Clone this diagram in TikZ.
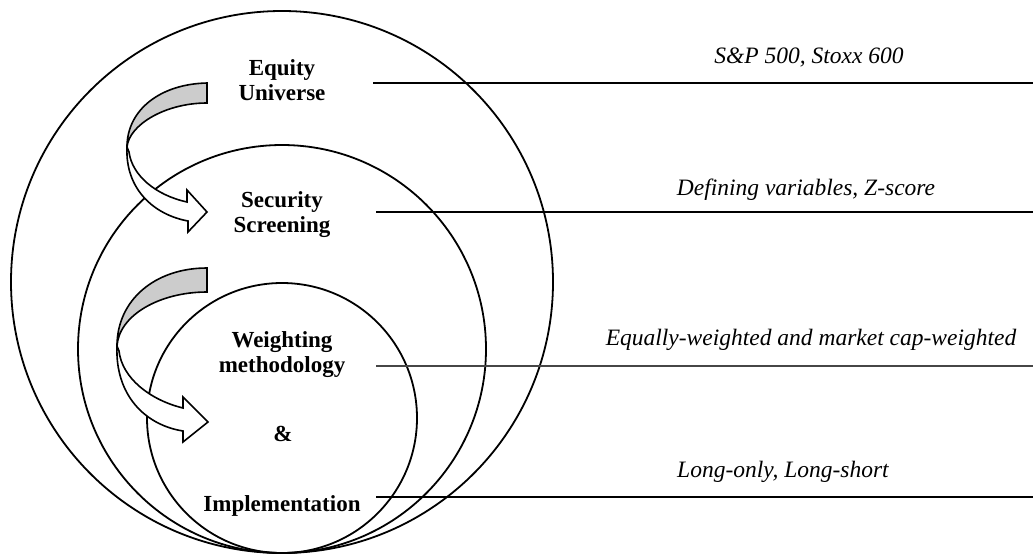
\documentclass[tikz,border=0pt]{standalone}
\usepackage{fontspec}
\setmainfont{Liberation Serif}
\definecolor{backgray}{RGB}{204,204,204}
\definecolor{leadgray}{RGB}{70,70,70}
\begin{document}
\begin{tikzpicture}[x=1pt,y=-1pt,
  ring/.style={draw=black,line width=1.8pt},
  bandback/.style={draw=black,line width=1.6pt,fill=backgray,line join=miter},
  bandfront/.style={draw=black,line width=1.6pt,fill=white,line join=miter},
  stagelbl/.style={font=\fontsize{23}{25}\selectfont\bfseries,align=center,inner sep=0pt,anchor=base},
  notelbl/.style={font=\fontsize{23.5}{26}\selectfont\itshape,inner sep=0pt,anchor=base},
  leader/.style={draw=black,line width=1.1pt}]
\useasboundingbox (0,0) rectangle (1033,555);
\fill[white] (0,0) rectangle (1033,555);

% nested circles
\draw[ring] (282,282) circle[radius=271];
\draw[ring] (282,349) circle[radius=204];
\draw[ring] (282,418) circle[radius=135];

% curved arrow 1
\draw[bandback] (207,83) .. controls (160,84) and (127,110) .. (127,147)
   .. controls (129,125) and (165,103) .. (207,103) -- cycle;
\draw[bandfront] (127,147) .. controls (125,190) and (155,215) .. (188,221)
   -- (188,232) -- (207,212) -- (187,190) -- (187,202)
   .. controls (155,195) and (132,175) .. (129,152) -- cycle;

% curved arrow 2
\draw[bandback] (207,268) .. controls (155,268) and (117,300) .. (117,346)
   .. controls (119,315) and (160,292) .. (207,292) -- cycle;
\draw[bandfront] (117,346) .. controls (115,395) and (145,425) .. (183,431)
   -- (183,442) -- (208,422) -- (183,397) -- (183,408)
   .. controls (150,400) and (122,378) .. (119,351) -- cycle;

% stage labels
\node[stagelbl] (equity) at (282,100) {Equity\\Universe};
\node[stagelbl] (screen) at (282,232) {Security\\Screening};
\node[stagelbl] (weight) at (282,372) {Weighting\\methodology};
\node[stagelbl] (amp) at (283,441) {\&};
\node[stagelbl] (impl) at (282,511) {Implementation};

% leader lines
\coordinate (l1a) at (373,83);  \coordinate (l1b) at (1033,83);
\coordinate (l2a) at (376,212); \coordinate (l2b) at (1033,212);
\coordinate (l3a) at (376,366); \coordinate (l3b) at (1033,366);
\coordinate (l4a) at (376,497); \coordinate (l4b) at (1033,497);
\draw[leader] (l1a) -- (l1b);
\draw[leader] (l2a) -- (l2b);
\draw[leader,draw=leadgray,line width=1.4pt] (l3a) -- (l3b);
\draw[leader] (l4a) -- (l4b);

% notes
\node[notelbl] (n1) at (809,63) {S\&P 500, Stoxx 600};
\node[notelbl] (n2) at (806,195) {Defining variables, Z-score};
\node[notelbl] (n3) at (811,345) {Equally-weighted and market cap-weighted};
\node[notelbl] (n4) at (783,477) {Long-only, Long-short};
\end{tikzpicture}
\end{document}
